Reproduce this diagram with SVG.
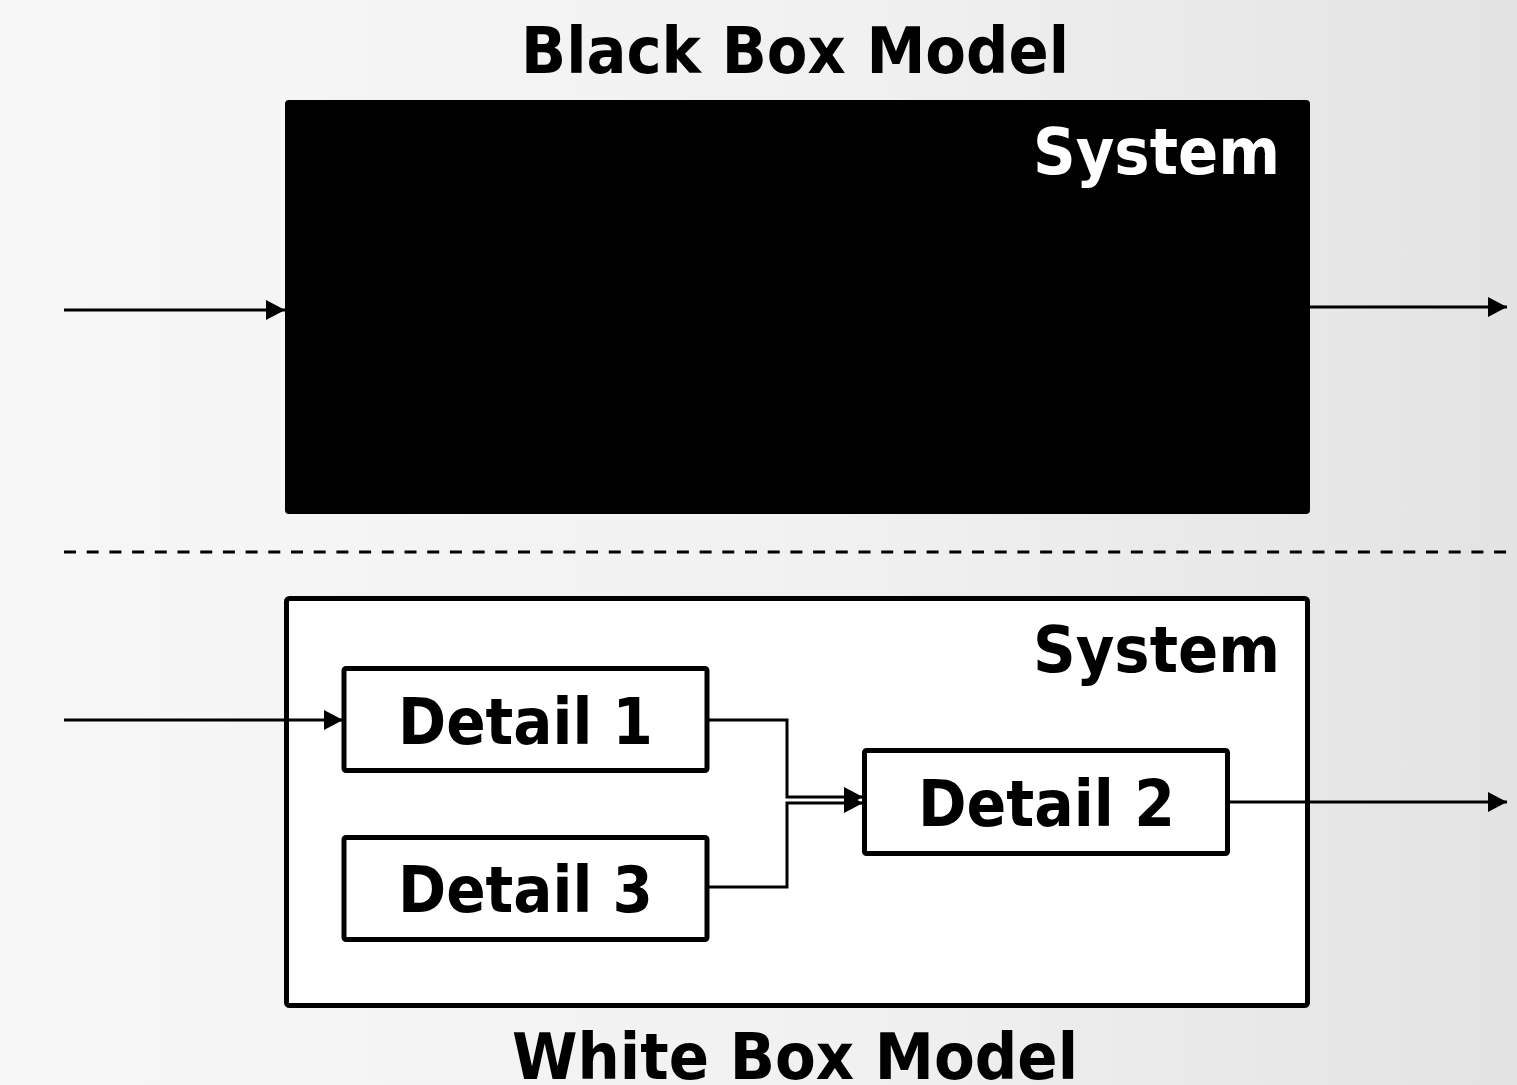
<svg xmlns="http://www.w3.org/2000/svg" width="1517" height="1085" viewBox="0 0 1517 1085">
  <defs>
    <linearGradient id="bg" x1="0" y1="0" x2="1" y2="0">
      <stop offset="0" stop-color="#f7f7f7"/>
      <stop offset="0.55" stop-color="#f1f1f1"/>
      <stop offset="1" stop-color="#e3e3e3"/>
    </linearGradient>
    <marker id="arr" markerUnits="userSpaceOnUse" markerWidth="22" markerHeight="20" refX="19" refY="10" orient="auto">
      <path d="M0,0 L19,10 L0,20 Z" fill="#000"/>
    </marker>
  </defs>
  <style>
    .title { font-family: "DejaVu Sans", Verdana, sans-serif; font-weight: bold; font-size: 64px; fill: #000; }
    .label { font-family: "DejaVu Sans", Verdana, sans-serif; font-weight: bold; font-size: 64px; }
    .conn { fill: none; stroke: #000; stroke-width: 3; }
    .box { fill: #fff; stroke: #000; stroke-width: 5; }
  </style>
  <rect x="0" y="0" width="1517" height="1085" fill="url(#bg)"/>

  <text class="title" x="795" y="73" text-anchor="middle" textLength="548" lengthAdjust="spacingAndGlyphs">Black Box Model</text>

  <g id="black-system">
    <rect x="285" y="100" width="1025" height="414" rx="4" fill="#000"/>
    <text class="label" x="1280" y="174" text-anchor="end" fill="#fff" textLength="247" lengthAdjust="spacingAndGlyphs">System</text>
  </g>

  <line x1="64" y1="552" x2="1510" y2="552" stroke="#000" stroke-width="3" stroke-dasharray="12 10.7"/>

  <g id="white-system">
    <rect class="box" x="286.5" y="598.5" width="1021" height="407" rx="3"/>
    <text class="label" x="1280" y="672" text-anchor="end" fill="#000" textLength="247" lengthAdjust="spacingAndGlyphs">System</text>
  </g>

  <g id="detail1">
    <rect class="box" x="344" y="668.5" width="363" height="102" rx="2" stroke-width="4"/>
    <text class="label" x="525.5" y="744" text-anchor="middle" fill="#000" textLength="255" lengthAdjust="spacingAndGlyphs">Detail 1</text>
  </g>
  <g id="detail3">
    <rect class="box" x="344" y="837.5" width="363" height="102" rx="2" stroke-width="4"/>
    <text class="label" x="525.5" y="912" text-anchor="middle" fill="#000" textLength="255" lengthAdjust="spacingAndGlyphs">Detail 3</text>
  </g>
  <g id="detail2">
    <rect class="box" x="864.5" y="750.5" width="363" height="103" rx="2" stroke-width="4"/>
    <text class="label" x="1046.5" y="826" text-anchor="middle" fill="#000" textLength="257" lengthAdjust="spacingAndGlyphs">Detail 2</text>
  </g>

  <g id="connectors">
    <line class="conn" x1="64" y1="310" x2="285" y2="310" marker-end="url(#arr)"/>
    <line class="conn" x1="1310" y1="307" x2="1507" y2="307" marker-end="url(#arr)"/>
    <line class="conn" x1="64" y1="720" x2="343" y2="720" marker-end="url(#arr)"/>
    <polyline class="conn" points="708,720 787,720 787,797 863,797" marker-end="url(#arr)"/>
    <polyline class="conn" points="708,887 787,887 787,803 863,803" marker-end="url(#arr)"/>
    <line class="conn" x1="1228" y1="802" x2="1507" y2="802" marker-end="url(#arr)"/>
  </g>

  <text class="title" x="795" y="1079" text-anchor="middle" textLength="566" lengthAdjust="spacingAndGlyphs">White Box Model</text>
</svg>
